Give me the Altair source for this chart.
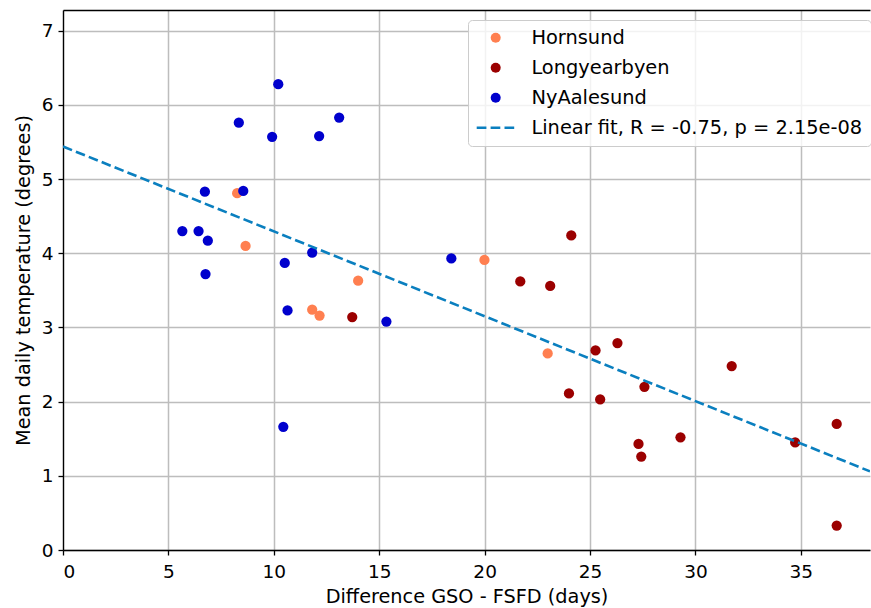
import altair as alt
import pandas as pd

# ---- data ----
horn_x = [8.26, 8.66, 11.82, 12.17, 14.0, 19.99, 22.99]
horn_y = [4.81, 4.10, 3.24, 3.16, 3.63, 3.91, 2.65]

long_x = [13.72, 21.69, 23.11, 24.11, 24.0, 25.26, 25.48, 26.3, 27.58, 27.3,
          27.43, 29.29, 31.72, 34.73, 36.7, 36.7]
long_y = [3.14, 3.62, 3.56, 4.24, 2.11, 2.69, 2.03, 2.79, 2.20, 1.43,
          1.26, 1.52, 2.48, 1.45, 1.70, 0.33]

ny_x = [5.66, 6.43, 6.87, 6.73, 6.76, 8.34, 8.55, 9.92, 10.21, 10.52,
        12.15, 13.1, 11.82, 10.65, 15.34, 10.45, 18.42]
ny_y = [4.30, 4.30, 4.17, 4.83, 3.72, 5.76, 4.84, 5.57, 6.28, 3.87,
        5.58, 5.83, 4.01, 3.23, 3.08, 1.66, 3.93]

fit_x = [0.0, 38.28]
fit_y = [5.44, 1.06]

stations = ["Hornsund", "Longyearbyen", "NyAalesund"]
FIT = "Linear fit, R = -0.75, p = 2.15e-08"
colors = ["#ff7f50", "#9b0000", "#0000cd", "#0a7fbf"]

x_ticks = [0, 5, 10, 15, 20, 25, 30, 35]
y_ticks = [0, 1, 2, 3, 4, 5, 6, 7]

rows = []
for name, xs, ys in zip(stations, [horn_x, long_x, ny_x], [horn_y, long_y, ny_y]):
    for a, b in zip(xs, ys):
        rows.append({"x": a, "y": b, "station": name})
pts = pd.DataFrame(rows)
fit = pd.DataFrame({"x": fit_x, "y": fit_y})

FONT = "DejaVu Sans"
DASH = [9.7, 4.2]
xscale = alt.Scale(domain=[0, 38.28], nice=False, zero=False)
yscale = alt.Scale(domain=[0, 7.28], nice=False, zero=False)

xaxis = alt.Axis(values=x_ticks, title="Difference GSO - FSFD (days)",
                 labelFontSize=18.5, titleFontSize=19.3, labelFont=FONT, titleFont=FONT,
                 labelColor="black", titleColor="black", titleFontWeight="normal",
                 tickColor="black", tickSize=5, tickWidth=1.3, labelPadding=7,
                 domainColor="black", domainWidth=1.3, grid=True,
                 gridColor="#bdbdbd", gridWidth=1.5, titlePadding=7, format="d")
yaxis = alt.Axis(values=y_ticks, title="Mean daily temperature (degrees)",
                 labelFontSize=18.5, titleFontSize=19.3, labelFont=FONT, titleFont=FONT,
                 labelColor="black", titleColor="black", titleFontWeight="normal",
                 tickColor="black", tickSize=5, tickWidth=1.3, labelPadding=5,
                 domainColor="black", domainWidth=1.3, grid=True,
                 gridColor="#bdbdbd", gridWidth=1.5, titlePadding=8, format="d")

is_fit = f"datum.value === '{FIT}'"
legend = alt.Legend(
    title=None, orient="none", legendX=405, legendY=10,
    labelFontSize=19.4, labelFont=FONT, labelColor="black", labelLimit=0,
    labelOffset=26, symbolOffset=10, padding=8, rowPadding=9,
    fillColor="rgba(255,255,255,0.8)", strokeColor="#cccccc", cornerRadius=4,
    symbolType={"expr": f"{is_fit} ? 'stroke' : 'circle'"},
    symbolSize={"expr": f"{is_fit} ? 1444 : 100"},
    symbolStrokeColor={"expr": f"{is_fit} ? '{colors[3]}' : 'transparent'"},
    symbolStrokeWidth={"expr": f"{is_fit} ? 2.6 : 0"},
    symbolDash={"expr": f"{is_fit} ? [{DASH[0]}, {DASH[1]}] : [1, 0]"},
    symbolOpacity=1,
)

points = alt.Chart(pts).mark_circle(size=105, opacity=1).encode(
    x=alt.X("x:Q", scale=xscale, axis=xaxis),
    y=alt.Y("y:Q", scale=yscale, axis=yaxis),
    color=alt.Color("station:N",
                    scale=alt.Scale(domain=stations + [FIT], range=colors),
                    legend=legend),
)

top_frame = alt.Chart(pts).mark_point(opacity=0).encode(
    x=alt.X("x:Q", scale=xscale,
            axis=alt.Axis(orient="top", labels=False, ticks=False, grid=False,
                          title=None, domainColor="black", domainWidth=1.3)),
)

line = alt.Chart(fit).mark_line(color=colors[3], strokeWidth=2.6,
                                strokeDash=DASH, clip=True).encode(
    x=alt.X("x:Q", scale=xscale, axis=None),
    y=alt.Y("y:Q", scale=yscale),
)

chart = alt.layer(points, top_frame, line).resolve_axis(x="independent").properties(
    width=807, height=540,
    autosize=alt.AutoSizeParams(type="none"),
    padding={"left": 63, "top": 10, "right": 1, "bottom": 58},
    background="white",
).configure_view(stroke=None)

chart.save("out.html", embed_options={"renderer": "svg", "actions": False})
